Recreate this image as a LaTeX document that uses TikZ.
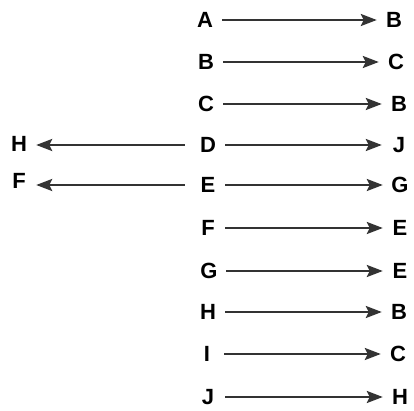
\documentclass[tikz,border=0pt]{standalone}
\usepackage{fontspec}
\setmainfont{Liberation Sans}
\usetikzlibrary{arrows.meta,positioning}

\begin{document}
\begin{tikzpicture}[x=1pt,y=1pt,
	letter/.style={font=\fontsize{22}{25}\selectfont\bfseries,inner sep=0pt,minimum width=34pt,text height=15.5pt,text depth=0pt},
	link/.style={-{Stealth[length=16pt,width=12pt,inset=3pt]},line width=2.6pt,black!80},
	back/.style={link,shorten <=6pt}
	]
	\useasboundingbox (0,0) rectangle (414,-411);

	% left column
	\node[letter] (s1) at (205,-20) {A};
	\node[letter] (s2) at (206,-62) {B};
	\node[letter] (s3) at (206,-104) {C};
	\node[letter] (s4) at (208,-145) {D};
	\node[letter] (s5) at (208,-185) {E};
	\node[letter] (s6) at (208,-228) {F};
	\node[letter] (s7) at (209,-271) {G};
	\node[letter] (s8) at (208,-312) {H};
	\node[letter] (s9) at (207,-354) {I};
	\node[letter] (s10) at (208,-397) {J};

	% right column
	\node[letter] (t1) at (394,-20) {B};
	\node[letter] (t2) at (396,-62) {C};
	\node[letter] (t3) at (399,-104) {B};
	\node[letter] (t4) at (399,-145) {J};
	\node[letter] (t5) at (400,-185) {G};
	\node[letter] (t6) at (400,-228) {E};
	\node[letter] (t7) at (400,-271) {E};
	\node[letter] (t8) at (399,-312) {B};
	\node[letter] (t9) at (398,-354) {C};
	\node[letter] (t10) at (400,-397) {H};

	% far left
	\node[letter] (l4) at (19,-144) {H};
	\node[letter] (l5) at (19,-181) {F};

	\draw[link] (s1.east) -- (t1.west);
	\draw[link] (s2.east) -- (t2.west);
	\draw[link] (s3.east) -- (t3.west);
	\draw[link] (s4.east) -- (t4.west);
	\draw[link] (s5.east) -- (t5.west);
	\draw[link] (s6.east) -- (t6.west);
	\draw[link] (s7.east) -- (t7.west);
	\draw[link] (s8.east) -- (t8.west);
	\draw[link] (s9.east) -- (t9.west);
	\draw[link] (s10.east) -- (t10.west);

	\draw[back] (s4.west) -- (l4.east |- s4.west);
	\draw[back] (s5.west) -- (l5.east |- s5.west);

\end{tikzpicture}
\end{document}
